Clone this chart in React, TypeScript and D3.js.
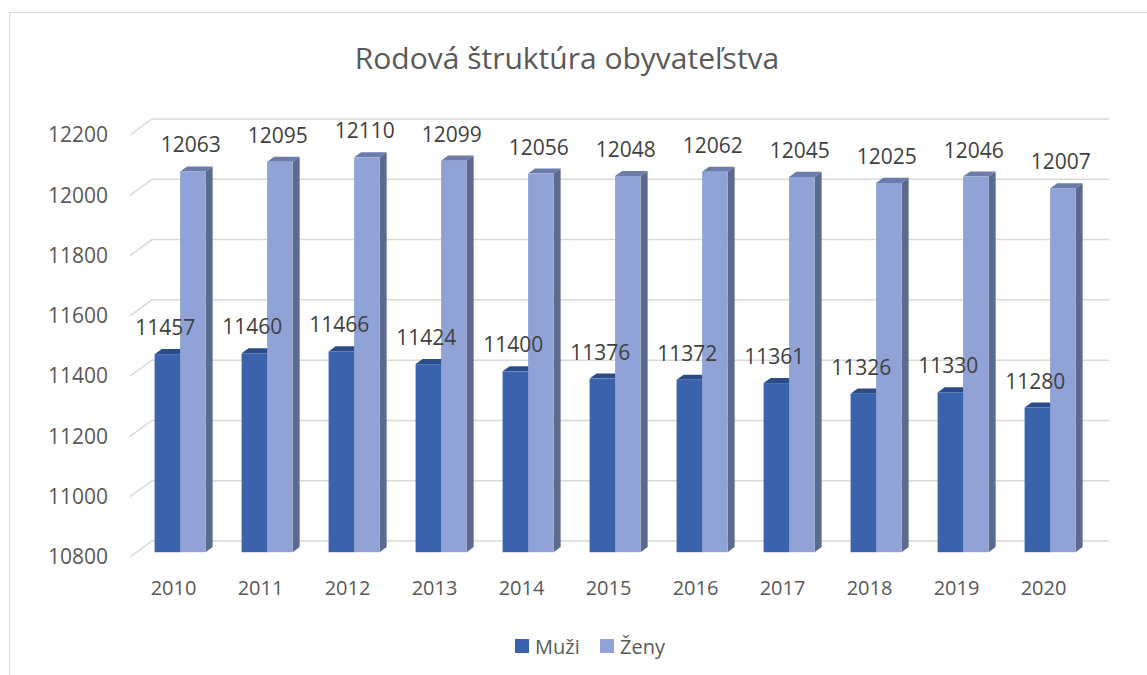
import React from "react";
import * as d3 from "d3";

const years = ["2010", "2011", "2012", "2013", "2014", "2015", "2016", "2017", "2018", "2019", "2020"];
const muzi = [11457, 11460, 11466, 11424, 11400, 11376, 11372, 11361, 11326, 11330, 11280];
const zeny = [12063, 12095, 12110, 12099, 12056, 12048, 12062, 12045, 12025, 12046, 12007];
const yTicks = [10800, 11000, 11200, 11400, 11600, 11800, 12000, 12200];
const seriesNames = ["Muži", "Ženy"];

const W = 1147;
const H = 675;
const FONT = "'Open Sans', sans-serif";
const TEXT = "#595959";
const GRID = "#d9d9d9";

// depth vector of the 3d box (front -> back wall)
const DX = 22;
const DY = -16;
const tFront = 0.3; // bar front plane
const tBack = 0.62; // bar back plane

const colors = {
  muzi: { front: "#3b63ad", top: "#2c4c88", side: "#2a4580" },
  zeny: { front: "#91a3d6", top: "#6b7cab", side: "#5b6a8e" },
};

const App = () => {
  const x = d3.scaleBand().domain(years).range([130, 1087]).padding(0);
  const y = d3.scaleLinear().domain([10800, 12200]).range([557, 135]);
  const barW = 25.5;

  const bar = (cx: number, v: number, c: { front: string; top: string; side: string }, key: string) => {
    const fx = cx + DX * tFront;
    const fy0 = y(10800) + DY * tFront;
    const fy1 = y(v) + DY * tFront;
    const bdx = DX * (tBack - tFront);
    const bdy = DY * (tBack - tFront);
    const x0 = fx - barW / 2;
    const x1 = fx + barW / 2;
    return (
      <g key={key}>
        <polygon
          points={`${x1},${fy1} ${x1 + bdx},${fy1 + bdy} ${x1 + bdx},${fy0 + bdy} ${x1},${fy0}`}
          fill={c.side}
        />
        <polygon
          points={`${x0},${fy1} ${x1},${fy1} ${x1 + bdx},${fy1 + bdy} ${x0 + bdx},${fy1 + bdy}`}
          fill={c.top}
        />
        <rect x={x0} y={fy1} width={barW} height={fy0 - fy1} fill={c.front} />
      </g>
    );
  };

  // value labels sit a little above the bar top, centred just left of the front face
  const label = (cx: number, v: number, key: string) => (
    <text
      key={key}
      x={cx + DX * tFront - 2}
      y={y(v) + DY * tFront - 19}
      textAnchor="middle"
      fontSize={21}
      fill="#404040"
      fontFamily={FONT}
    >
      {v}
    </text>
  );

  return (
    <div style={{ position: "absolute", left: 0, top: 0 }}>
      <svg width={W} height={H} style={{ display: "block", background: "#fff" }}>
        <rect x={9.5} y={12.5} width={1400} height={900} fill="#fff" stroke={GRID} strokeWidth={1.2} />

        <text x={567} y={69} textAnchor="middle" fontSize={30} fill={TEXT} fontFamily={FONT}>
          Rodová štruktúra obyvateľstva
        </text>

        {/* gridlines: left side wall + back wall */}
        {yTicks.map((t) => (
          <polyline
            key={"g" + t}
            points={`130,${y(t)} ${130 + DX},${y(t) + DY} ${1087 + DX},${y(t) + DY}`}
            fill="none"
            stroke={GRID}
            strokeWidth={1.5}
          />
        ))}

        {yTicks.map((t) => (
          <text
            key={"yl" + t}
            x={108}
            y={y(t)}
            dy="0.35em"
            textAnchor="end"
            fontSize={21}
            fill={TEXT}
            fontFamily={FONT}
          >
            {t}
          </text>
        ))}

        {years.map((yr, i) => {
          const c = x(yr)! + x.bandwidth() / 2;
          return (
            <g key={"b" + yr}>
              {bar(c - barW / 2, muzi[i], colors.muzi, "m")}
              {bar(c + barW / 2, zeny[i], colors.zeny, "z")}
            </g>
          );
        })}

        {years.map((yr, i) => {
          const c = x(yr)! + x.bandwidth() / 2;
          return (
            <g key={"l" + yr}>
              {label(c - barW / 2, muzi[i], "m")}
              {label(c + barW / 2, zeny[i], "z")}
            </g>
          );
        })}

        {years.map((yr) => (
          <text
            key={"x" + yr}
            x={x(yr)! + x.bandwidth() / 2}
            y={595}
            textAnchor="middle"
            fontSize={20}
            fill={TEXT}
            fontFamily={FONT}
          >
            {yr}
          </text>
        ))}

        {seriesNames.map((s, i) => {
          const lx = [515, 600][i];
          return (
            <g key={"lg" + s}>
              <rect x={lx} y={639} width={14} height={14} fill={i === 0 ? colors.muzi.front : colors.zeny.front} />
              <text x={lx + 20} y={654} fontSize={20} fill={TEXT} fontFamily={FONT}>
                {s}
              </text>
            </g>
          );
        })}
      </svg>
    </div>
  );
};

export default App;
